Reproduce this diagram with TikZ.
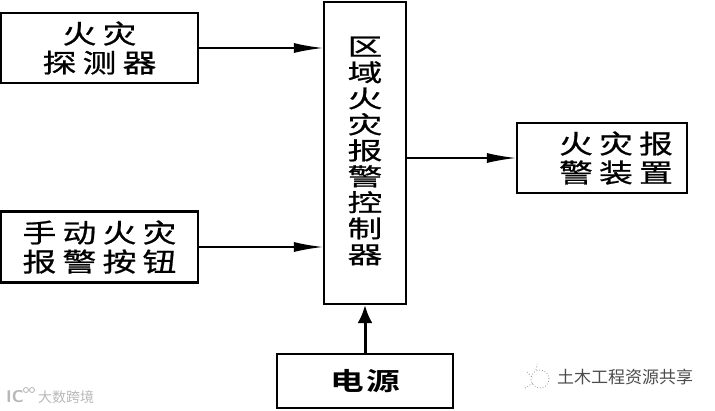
\documentclass[tikz,border=0pt]{standalone}
\usepackage{fontspec}
\newfontfamily\cjk{Noto Sans CJK SC}
\newfontfamily\cjkw{Noto Sans CJK SC}[LetterSpace=24,FakeStretch=1.3,FakeBold=0.8]
\newfontfamily\cjkv{Noto Sans CJK SC}[FakeStretch=1.45,FakeBold=0.8]
\newfontfamily\cjkb{Noto Sans CJK SC Bold}[LetterSpace=10,FakeStretch=1.35]
\usetikzlibrary{arrows.meta}
\tikzset{
 box/.style={draw=black,line width=2.2pt,fill=white,inner sep=0pt,align=center,font=\cjkw\fontsize{26pt}{29pt}\selectfont},
 conn/.style={draw=black,line width=1.5pt,-{Latex[length=29pt,width=10pt]}},
 connup/.style={draw=black,line width=3pt,-{Latex[length=18pt,width=15pt]}},
 markgrey/.style={draw=black!30,line width=.8pt}
}
\begin{document}
\begin{tikzpicture}[x=1pt,y=-1pt]
\useasboundingbox (0,0) rectangle (715,410);
\node[box,minimum width=197pt,minimum height=70pt] (det) at (99.5,48) {火灾\\探测器};
\node[box,minimum width=197pt,minimum height=71pt] (man) at (99.5,247) {手动火灾\\报警按钮};
\node[box,minimum width=82pt,minimum height=302pt,font=\cjkv\fontsize{24pt}{26pt}\selectfont] (ctl) at (365,153) {区\\域\\火\\灾\\报\\警\\控\\制\\器\\[-20pt]\mbox{}};
\node[box,minimum width=170pt,minimum height=70pt] (alm) at (602,158) {\hspace*{28pt}火灾报\\\hspace*{28pt}警装置};
\node[box,minimum width=176pt,minimum height=54pt,font=\cjkb\fontsize{25pt}{29pt}\selectfont] (pwr) at (365,381) {电源};
\coordinate (a1) at (ctl.west|-det.east);
\coordinate (a2) at (ctl.west|-man.east);
\coordinate (a3) at (ctl.east|-alm.west);
\draw[conn] (det.east) -- (a1);
\draw[conn] (man.east) -- (a2);
\draw[conn] (a3) -- (alm.west);
\draw[connup] (pwr.north) -- (ctl.south);
\node[font=\cjk\fontsize{17pt}{17pt}\selectfont,text=black!70] (wm) at (625,377) {土木工程资源共享};
\node[font=\cjk\fontsize{14pt}{14pt}\selectfont,text=black!28] (wm2) at (66,397) {大数跨境};
\node[font=\sffamily\bfseries\fontsize{17pt}{17pt}\selectfont,text=black!28,inner sep=0pt] (ic) at (15,397) {IC};
\draw[markgrey] (26,390) circle (2.5pt) (32,390) circle (2.5pt);
\draw[draw=black!40,line width=.8pt,dotted] (540,379) circle (9pt);
\draw[draw=black!40,line width=.8pt,dotted] (527,372) -- (533,378) (525,388) -- (533,383) (536,370) -- (537,364);
\end{tikzpicture}
\end{document}
